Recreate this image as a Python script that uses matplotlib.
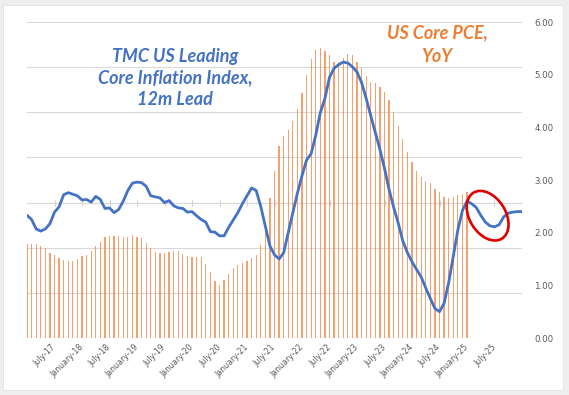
import numpy as np
import matplotlib
matplotlib.use('Agg')
import matplotlib.pyplot as plt
from matplotlib.patches import Ellipse, Rectangle
from matplotlib.transforms import ScaledTranslation

# months from January-17 (index 0) to January-26 (index 108)
core_pce = [1.78, 1.79, 1.79, 1.74, 1.70, 1.62, 1.57, 1.52, 1.48, 1.46, 1.47, 1.50,
            1.55, 1.58, 1.66, 1.75, 1.83, 1.91, 1.93, 1.93, 1.93, 1.92, 1.92, 1.96,
            1.92, 1.89, 1.80, 1.70, 1.63, 1.62, 1.62, 1.63, 1.65, 1.65, 1.60, 1.56,
            1.54, 1.54, 1.54, 1.40, 1.26, 1.08, 1.00, 1.10, 1.22, 1.32, 1.38, 1.42,
            1.47, 1.51, 1.57, 1.76, 2.18, 2.65, 3.18, 3.64, 3.83, 3.95, 4.12, 4.34,
            4.65, 4.99, 5.30, 5.47, 5.50, 5.45, 5.37, 5.25, 5.24, 5.32, 5.39, 5.38,
            5.25, 5.12, 4.98, 4.87, 4.84, 4.77, 4.68, 4.52, 4.29, 4.02, 3.78, 3.53,
            3.34, 3.18, 3.06, 2.98, 2.94, 2.83, 2.77, 2.68, 2.66, 2.68, 2.71, 2.74,
            2.77]

tmc_index = [2.33, 2.25, 2.07, 2.03, 2.07, 2.17, 2.39, 2.49, 2.72, 2.76, 2.73, 2.70,
             2.62, 2.63, 2.58, 2.69, 2.63, 2.46, 2.47, 2.38, 2.44, 2.60, 2.80, 2.94,
             2.96, 2.95, 2.88, 2.70, 2.68, 2.66, 2.57, 2.61, 2.51, 2.47, 2.46, 2.39,
             2.40, 2.32, 2.25, 2.20, 2.02, 2.01, 1.94, 1.94, 2.10, 2.24, 2.38, 2.55,
             2.70, 2.85, 2.80, 2.50, 2.12, 1.75, 1.58, 1.50, 1.62, 2.00, 2.38, 2.75,
             3.08, 3.38, 3.50, 3.85, 4.28, 4.55, 4.95, 5.12, 5.19, 5.24, 5.22, 5.15,
             5.05, 4.85, 4.55, 4.22, 3.90, 3.58, 3.22, 2.82, 2.48, 2.18, 1.84, 1.62,
             1.45, 1.30, 1.16, 0.95, 0.75, 0.56, 0.50, 0.66, 1.05, 1.55, 2.05, 2.42,
             2.60, 2.55, 2.48, 2.33, 2.20, 2.13, 2.11, 2.15, 2.30, 2.37, 2.39, 2.40,
             2.40]

tick_labels = ['July-17', 'January-18', 'July-18', 'January-19', 'July-19',
               'January-20', 'July-20', 'January-21', 'July-21', 'January-22',
               'July-22', 'January-23', 'July-23', 'January-24', 'July-24',
               'January-25', 'July-25']

W, H = 569, 395
fig = plt.figure(figsize=(W / 100, H / 100), dpi=100)
fig.patch.set_facecolor('#eeeeee')
fig.patches.append(Rectangle((3 / W, 5 / H), 560 / W, 385 / H, transform=fig.transFigure,
                             facecolor='white', edgecolor='#e2e2e2', lw=0.6, zorder=-5))

rect = [27 / W, (H - 338) / H, 495 / W, 316 / H]

# primary axis (hidden scale): gridlines and the crossing axis with its tick marks
axg = fig.add_axes(rect)
axg.set_zorder(1)
axg.patch.set_visible(False)
axg.set_xlim(0, 108)
axg.set_ylim(-3, 4)
axg.set_yticks(range(-3, 5))
axg.set_xticks(range(0, 109, 6))
axg.grid(True, axis='y', color='#d9d9d9', linewidth=0.8)
for s in ['top', 'right', 'left']:
    axg.spines[s].set_visible(False)
axg.spines['bottom'].set_position(('data', 0))
axg.spines['bottom'].set_color('#d9d9d9')
axg.spines['bottom'].set_linewidth(0.8)
axg.tick_params(axis='y', left=False, right=False, labelleft=False, labelright=False)
axg.tick_params(axis='x', direction='inout', length=5, width=0.8, color='#cfcfcf',
                labelbottom=False)

# secondary axis: bars and line
ax = fig.add_axes(rect, sharex=axg)
ax.set_zorder(2)
ax.patch.set_visible(False)
months = np.arange(len(tmc_index))
ax.bar(months[:len(core_pce)], core_pce, width=0.26, color='#F08A4B', alpha=0.8, zorder=2)
ax.plot(months, tmc_index, color='#4472C4', lw=2.0, zorder=3, solid_capstyle='round')
ax.set_xlim(0, 108)
ax.set_ylim(0, 6)
ax.yaxis.tick_right()
ax.set_yticks(np.arange(0, 7, 1))
ax.set_yticklabels(['%.2f' % v for v in range(7)])
ax.tick_params(axis='y', length=0, pad=9, labelsize=6.2, labelcolor='#595959')
for s in ax.spines.values():
    s.set_visible(False)

ax.set_xticks(range(6, 103, 6))
ax.set_xticklabels(tick_labels, rotation=45, ha='right', va='center',
                   rotation_mode='anchor', fontsize=5.6, color='#595959')
ax.tick_params(axis='x', length=0, pad=6)

# red circle around the last part of the leading index
seg = slice(96, 106)
cx = months[seg].mean()
cy = np.mean(tmc_index[seg])
ell = Ellipse((0, 0), 0.36, 0.54, angle=32, fill=False, edgecolor='#E00000', lw=1.9,
              transform=fig.dpi_scale_trans + ScaledTranslation(cx, cy, ax.transData),
              zorder=4)
ax.add_artist(ell)

fig.text(175 / W, (H - 78) / H, 'TMC US Leading\nCore Inflation Index,\n12m Lead',
         ha='center', va='center', color='#4472C4', fontsize=13, fontweight='bold',
         fontstyle='italic', family=['Lato', 'DejaVu Sans'], linespacing=1.3, zorder=5)
fig.text(437 / W, (H - 45) / H, 'US Core PCE,\nYoY', ha='center', va='center',
         color='#ED7D31', fontsize=13, fontweight='bold', fontstyle='italic',
         family=['Lato', 'DejaVu Sans'], linespacing=1.5, zorder=5)

fig.savefig('out.png', dpi=100, facecolor=fig.get_facecolor())
